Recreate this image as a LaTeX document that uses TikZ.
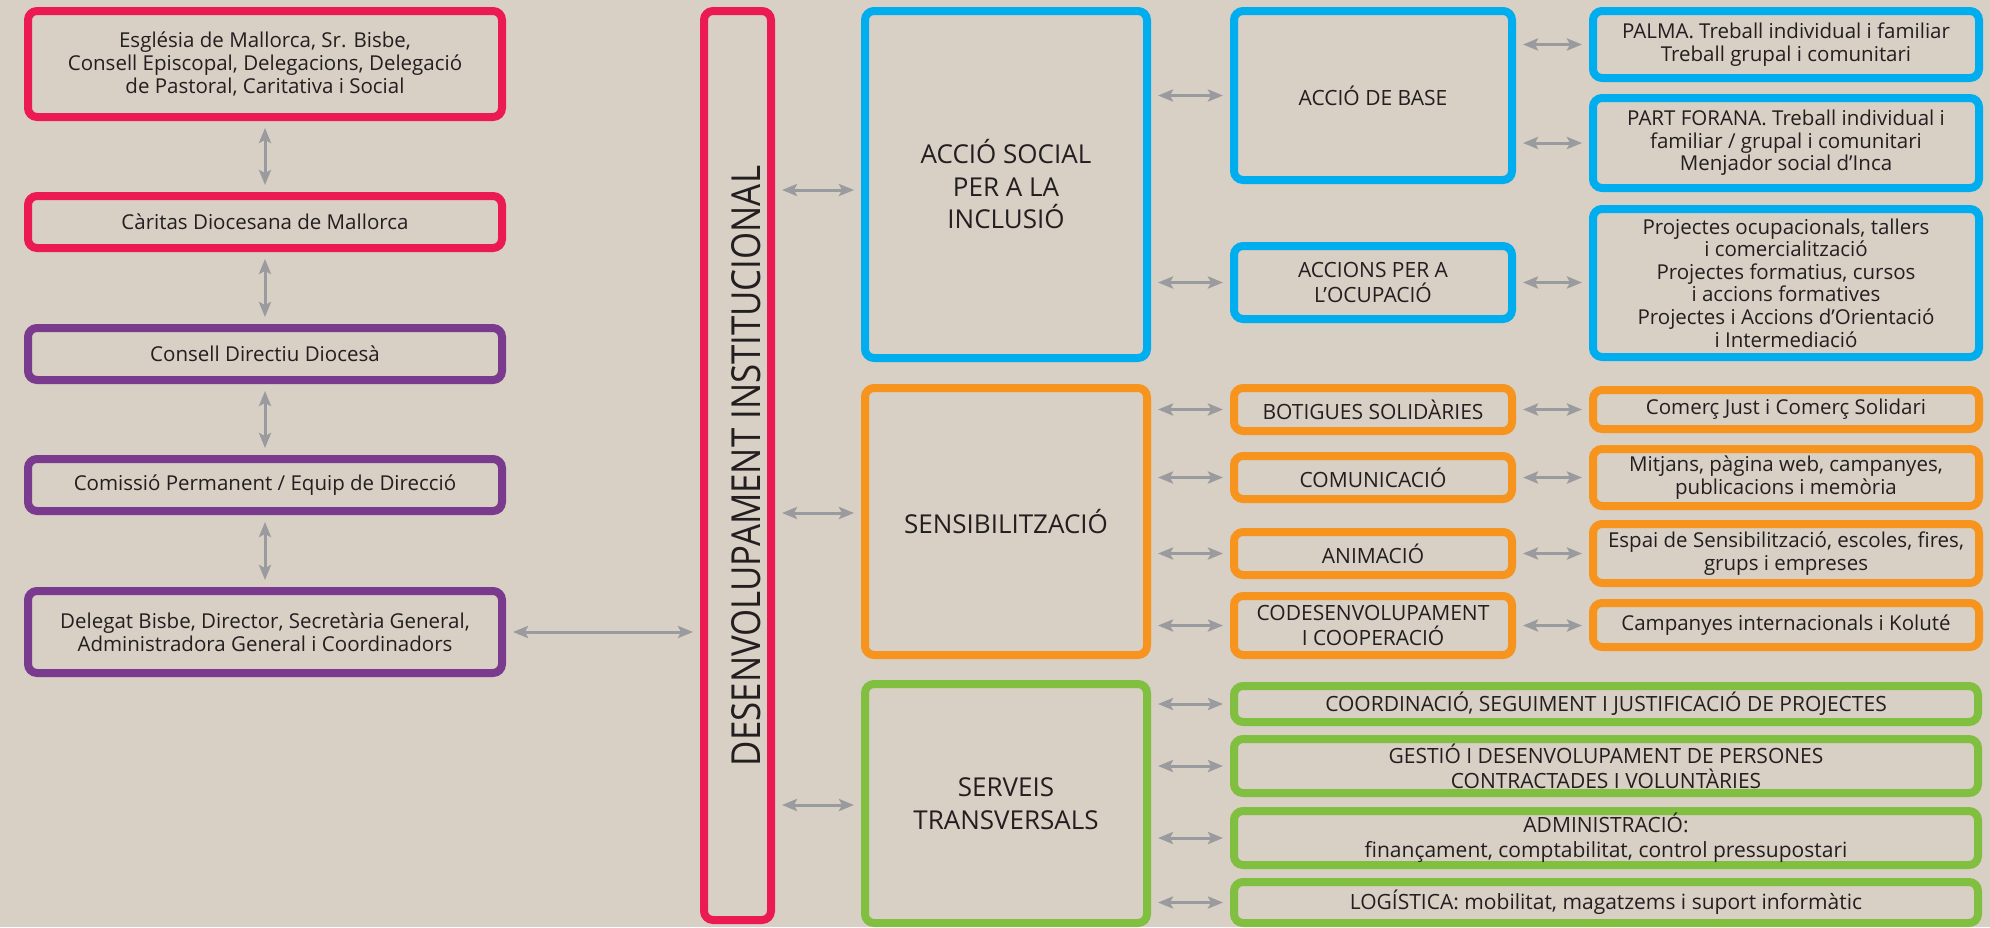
\documentclass[tikz,border=0pt]{standalone}
\usepackage{fontspec}
\setmainfont{Open Sans}
\usetikzlibrary{arrows.meta}
\definecolor{bgc}{HTML}{D8CFC5}
\definecolor{cpink}{HTML}{EC1A53}
\definecolor{cpurple}{HTML}{7A3B8F}
\definecolor{cblue}{HTML}{00AEEF}
\definecolor{corange}{HTML}{F7941E}
\definecolor{cgreen}{HTML}{80BF40}
\definecolor{cgray}{HTML}{9A9B9E}
\definecolor{ctxt}{HTML}{231F20}
\newcommand\fsnorm{\fontsize{20.5}{22.6}\selectfont}
\newcommand\fscap{\fontsize{21}{25}\selectfont}
\newcommand\fsbig{\fontsize{26}{32.5}\selectfont}
\newcommand\fsvert{\fontsize{40}{40}\selectfont}
\tikzset{
  bx/.style={draw=#1, line width=8pt, rounded corners=9pt, inner sep=0pt, align=center, text=ctxt, font=\fsnorm},
  capbx/.style={bx=#1, font=\fscap},
  bigbx/.style={bx=#1, font=\fsbig},
  arr/.style={draw=cgray, line width=3pt, {Stealth[length=15pt,width=12pt,inset=3pt]}-{Stealth[length=15pt,width=12pt,inset=3pt]}, shorten <=7pt, shorten >=7pt},
}
\begin{document}
\begin{tikzpicture}[x=1pt,y=-1pt]
\fill[bgc] (0,0) rectangle (1990,927);
\useasboundingbox (0,0) rectangle (1990,927);
% left column
\node[bx=cpink, minimum width=474pt, minimum height=106pt] (b1) at (265,64) {Església de Mallorca, Sr. Bisbe,\\Consell Episcopal, Delegacions, Delegació\\de Pastoral, Caritativa i Social};
\node[bx=cpink, minimum width=474pt, minimum height=52pt] (b2) at (265,222) {Càritas Diocesana de Mallorca};
\node[bx=cpurple, minimum width=474pt, minimum height=52pt] (b3) at (265,354) {Consell Directiu Diocesà};
\node[bx=cpurple, minimum width=474pt, minimum height=52pt] (b4) at (265,485) {Comissió Permanent / Equip de Direcció};
\node[bx=cpurple, minimum width=474pt, minimum height=82pt] (b5) at (265,632) {Delegat Bisbe, Director, Secretària General,\\Administradora General i Coordinadors};
% institutional
\node[bx=cpink, minimum width=67pt, minimum height=909pt] (des) at (737.5,465.5) {};
\node[text=ctxt, rotate=90, inner sep=0pt] (destext) at (746,466) {\scalebox{0.87}[1]{\fsvert DESENVOLUPAMENT INSTITUCIONAL}};
% middle column
\node[bigbx=cblue, minimum width=282pt, minimum height=347pt] (acc) at (1006,184.5) {ACCIÓ SOCIAL\\PER A LA\\INCLUSIÓ};
\node[bigbx=corange, minimum width=282pt, minimum height=267pt] (sens) at (1006,521.5) {SENSIBILITZACIÓ};
\node[bigbx=cgreen, minimum width=282pt, minimum height=239pt] (serv) at (1006,803.5) {SERVEIS\\TRANSVERSALS};
% third column
\node[capbx=cblue, minimum width=278pt, minimum height=169pt] (base) at (1373,95.5) {ACCIÓ DE BASE};
\node[capbx=cblue, minimum width=278pt, minimum height=73pt] (ocup) at (1373,282.5) {ACCIONS PER A\\L’OCUPACIÓ};
\node[capbx=corange, minimum width=278pt, minimum height=43pt] (bot) at (1373,409.5) {BOTIGUES SOLIDÀRIES};
\node[capbx=corange, minimum width=278pt, minimum height=43pt] (com) at (1373,477.5) {COMUNICACIÓ};
\node[capbx=corange, minimum width=278pt, minimum height=43pt] (anim) at (1373,553.5) {ANIMACIÓ};
\node[capbx=corange, minimum width=278pt, minimum height=59pt] (codes) at (1373,625.5) {CODESENVOLUPAMENT\\I COOPERACIÓ};
% green wide boxes
\node[capbx=cgreen, minimum width=744pt, minimum height=36pt] (coord) at (1606,704) {COORDINACIÓ, SEGUIMENT I JUSTIFICACIÓ DE PROJECTES};
\node[capbx=cgreen, minimum width=744pt, minimum height=54pt] (gest) at (1606,766) {GESTIÓ I DESENVOLUPAMENT DE PERSONES\\CONTRACTADES I VOLUNTÀRIES};
\node[capbx=cgreen, minimum width=744pt, minimum height=54pt] (admin) at (1606,838) {ADMINISTRACIÓ:\\finançament, comptabilitat, control pressupostari};
\node[capbx=cgreen, minimum width=744pt, minimum height=41pt] (log) at (1606,902.5) {LOGÍSTICA: mobilitat, magatzems i suport informàtic};
% right column
\node[bx=cblue, minimum width=386pt, minimum height=67pt] (palma) at (1786,44.5) {PALMA. Treball individual i familiar\\Treball grupal i comunitari};
\node[bx=cblue, minimum width=386pt, minimum height=90pt] (forana) at (1786,143) {PART FORANA. Treball individual i\\familiar / grupal i comunitari\\Menjador social d’Inca};
\node[bx=cblue, minimum width=386pt, minimum height=148pt] (proj) at (1786,283) {Projectes ocupacionals, tallers\\i comercialització\\Projectes formatius, cursos\\i accions formatives\\Projectes i Accions d’Orientació\\i Intermediació};
\node[bx=corange, minimum width=386pt, minimum height=39pt] (comerc) at (1786,409.5) {Comerç Just i Comerç Solidari};
\node[bx=corange, minimum width=386pt, minimum height=57pt] (mitj) at (1786,477.5) {Mitjans, pàgina web, campanyes,\\publicacions i memòria};
\node[bx=corange, minimum width=386pt, minimum height=59pt] (espai) at (1786,553.5) {Espai de Sensibilització, escoles, fires,\\grups i empreses};
\node[bx=corange, minimum width=386pt, minimum height=44pt] (camp) at (1786,625) {Campanyes internacionals i Koluté};
% arrows left
\draw[arr] (b1.south) -- (b2.north);
\draw[arr] (b2.south) -- (b3.north);
\draw[arr] (b3.south) -- (b4.north);
\draw[arr] (b4.south) -- (b5.north);
\draw[arr] (b5.east) -- (b5.east -| des.west);
% desenv to middle
\draw[arr] (des.east |- 0,190) -- (acc.west |- 0,190);
\draw[arr] (des.east |- 0,513) -- (sens.west |- 0,513);
\draw[arr] (des.east |- 0,805) -- (serv.west |- 0,805);
% middle to third
\draw[arr] (acc.east |- base) -- (base.west);
\draw[arr] (acc.east |- ocup) -- (ocup.west);
\draw[arr] (sens.east |- bot) -- (bot.west);
\draw[arr] (sens.east |- com) -- (com.west);
\draw[arr] (sens.east |- anim) -- (anim.west);
\draw[arr] (sens.east |- codes) -- (codes.west);
\draw[arr] (serv.east |- coord) -- (coord.west);
\draw[arr] (serv.east |- gest) -- (gest.west);
\draw[arr] (serv.east |- admin) -- (admin.west);
\draw[arr] (serv.east |- log) -- (log.west);
% third to right
\draw[arr] (base.east |- palma) -- (palma.west);
\draw[arr] (base.east |- forana) -- (forana.west);
\draw[arr] (ocup.east) -- (ocup.east -| proj.west);
\draw[arr] (bot.east) -- (bot.east -| comerc.west);
\draw[arr] (com.east) -- (com.east -| mitj.west);
\draw[arr] (anim.east) -- (anim.east -| espai.west);
\draw[arr] (codes.east) -- (codes.east -| camp.west);
\end{tikzpicture}
\end{document}
